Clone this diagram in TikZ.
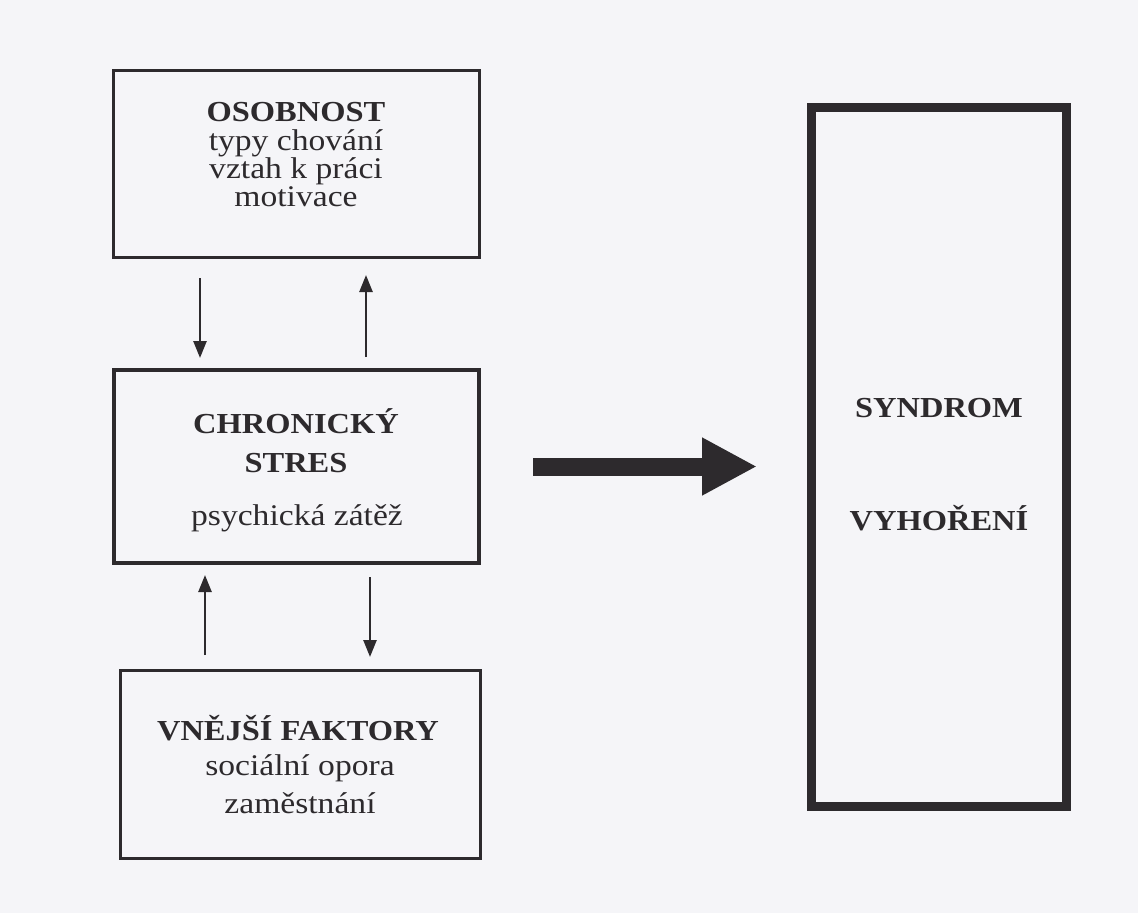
\documentclass[tikz,border=0pt]{standalone}
\usepackage{fontspec}
\setmainfont[FakeStretch=1.12]{Liberation Serif}
\usetikzlibrary{arrows.meta,calc}
\definecolor{ink}{RGB}{45,42,45}
\definecolor{paper}{RGB}{245,245,248}
\begin{document}
\begin{tikzpicture}[x=1pt,y=-1pt,
 box/.style={draw=ink,rectangle,outer sep=0pt,inner sep=0pt,line width=3pt},
 head/.style={anchor=base,text=ink,font=\fontsize{29}{29}\selectfont\bfseries,inner sep=0pt},
 sub/.style={anchor=base,text=ink,font=\fontsize{30}{30}\selectfont,inner sep=0pt},
 arr/.style={draw=ink,line width=2.5pt,-{Triangle[width=13pt,length=17pt]}},
 bigarr/.style={draw=ink,line width=18pt,-{Triangle[width=54pt,length=55pt]}}]
\path[fill=paper] (0,0) rectangle (1138,913);
\useasboundingbox (0,0) rectangle (1138,913);
% boxes
\node[box,minimum width=366pt,minimum height=187pt] (b1) at (296,163.5) {};
\node[box,line width=4pt,minimum width=365pt,minimum height=193pt] (b2) at (296.5,466.5) {};
\node[box,minimum width=360pt,minimum height=188pt] (b3) at (300,764) {};
\node[box,line width=9pt,minimum width=255pt,minimum height=699pt] (b4) at (938.5,456.5) {};
% texts
\node[head] (t11) at (296,121) {OSOBNOST};
\node[sub] (t12) at (296,150) {typy chování};
\node[sub] (t13) at (296,178) {vztah k práci};
\node[sub] (t14) at (296,206) {motivace};
\node[head] (t21) at (296,433) {CHRONICKÝ};
\node[head] (t22) at (296,472) {STRES};
\node[sub] (t23) at (297,525) {psychická zátěž};
\node[head] (t31) at (298,740) {VNĚJŠÍ FAKTORY};
\node[sub] (t32) at (300,775) {sociální opora};
\node[sub] (t33) at (300,813) {zaměstnání};
\node[head] (t41) at (939,417) {SYNDROM};
\node[head] (t42) at (939,530) {VYHOŘENÍ};
% connectors
\coordinate (x1) at (200,0);
\coordinate (x2) at (366,0);
\coordinate (x3) at (205,0);
\coordinate (x4) at (370,0);
\draw[arr,shorten <=21pt,shorten >=12pt] (b1.south -| x1) -- (b2.north -| x1);
\draw[arr,shorten <=13pt,shorten >=18pt] (b2.north -| x2) -- (b1.south -| x2);
\draw[arr,shorten <=15pt,shorten >=12pt] (b3.north -| x3) -- (b2.south -| x3);
\draw[arr,shorten <=14pt,shorten >=13pt] (b2.south -| x4) -- (b3.north -| x4);
\draw[bigarr,shorten <=54pt,shorten >=54pt] (b2.east) -- (b2.east -| b4.west);
\end{tikzpicture}
\end{document}
